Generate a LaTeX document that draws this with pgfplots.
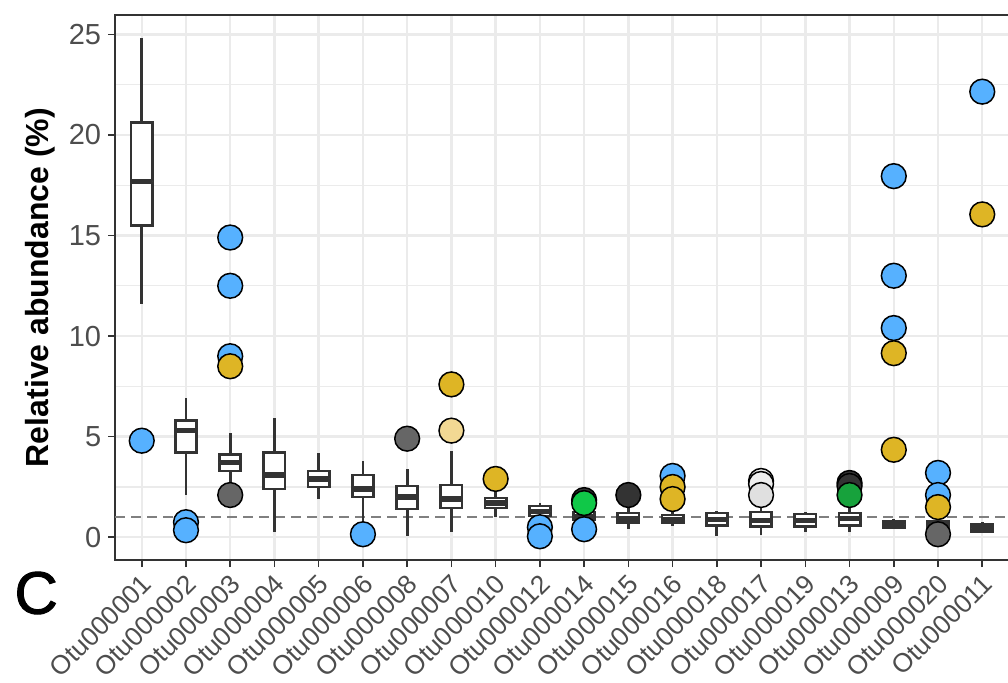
\documentclass[border=0pt]{standalone}
\usepackage{pgfplots}
\pgfplotsset{compat=1.18}
\usepgfplotslibrary{statistics}
\usepackage{fontspec}
\setmainfont{Liberation Sans}
\newfontfamily\cfont[FakeBold=1.6]{Liberation Sans}
\definecolor{cblue}{HTML}{56B1FF}
\definecolor{cgold}{HTML}{DEB525}
\definecolor{clgold}{HTML}{F2D893}
\definecolor{cgray}{HTML}{666666}
\definecolor{cdark}{HTML}{333333}
\definecolor{cgreen}{HTML}{10C848}
\definecolor{cdgreen}{HTML}{17A23C}
\definecolor{clgray}{HTML}{E0E0E0}
\definecolor{cvlgray}{HTML}{EEEEEE}
\definecolor{gridc}{HTML}{EBEBEB}
\definecolor{c333}{HTML}{333333}
\definecolor{c4d}{HTML}{4D4D4D}
\definecolor{cdash}{HTML}{808080}
\begin{document}
\begin{tikzpicture}
\pgfplotsset{boxc/.style={draw=c333, fill=white, line width=1.35pt, solid}}
\begin{axis}[
  at={(0,0)}, anchor=south west,
  scale only axis, width=446.8pt, height=272.5pt,
  xmin=-0.6, xmax=19.6, ymin=-1.13, ymax=25.96,
  xtick={0,...,19},
  xticklabels={Otu000001,Otu000002,Otu000003,Otu000004,Otu000005,Otu000006,Otu000008,Otu000007,Otu000010,Otu000012,Otu000014,Otu000015,Otu000016,Otu000018,Otu000017,Otu000019,Otu000013,Otu000009,Otu000020,Otu000011},
  ytick={0,5,10,15,20,25},
  minor ytick={2.5,7.5,12.5,17.5,22.5},
  xmajorgrids, ymajorgrids, yminorgrids,
  major grid style={gridc, line width=1.2pt},
  minor grid style={gridc, line width=0.7pt},
  axis line style={c333, line width=0.8pt},
  tick style={c333, line width=0.8pt},
  tick align=outside, tick pos=left,
  major tick length=3.5pt, minor tick length=0pt,
  /pgf/number format/assume math mode=true,
  yticklabel style={font=\fontsize{14.5}{16}\selectfont, text=c4d},
  xticklabel style={font=\fontsize{13.2}{15}\selectfont, text=c4d, rotate=45, anchor=north east, yshift=2pt, xshift=1pt},
  ylabel={\textbf{Relative abundance (\%)}},
  ylabel style={font=\fontsize{16}{18}\selectfont, at={(axis description cs:-0.084,0.5)}, anchor=center},
  boxplot/draw direction=y,
  boxplot/box extend=0.48,
  boxplot/whisker extend=0,
  boxplot/every median/.style={line width=2.6pt},
]
\addplot[cdash, line width=1pt, dash pattern=on 5pt off 3pt] coordinates {(-0.6,1) (19.6,1)};
% boxplots
\addplot[boxc, boxplot prepared={draw position=0, lower whisker=11.6, lower quartile=15.5, median=17.7, upper quartile=20.6, upper whisker=24.8}] coordinates {};
\addplot[boxc, boxplot prepared={draw position=1, lower whisker=2.1, lower quartile=4.2, median=5.3, upper quartile=5.8, upper whisker=6.9}] coordinates {};
\addplot[boxc, boxplot prepared={draw position=2, lower whisker=2.4, lower quartile=3.3, median=3.7, upper quartile=4.1, upper whisker=5.2}] coordinates {};
\addplot[boxc, boxplot prepared={draw position=3, lower whisker=0.25, lower quartile=2.4, median=3.1, upper quartile=4.2, upper whisker=5.95}] coordinates {};
\addplot[boxc, boxplot prepared={draw position=4, lower whisker=1.9, lower quartile=2.5, median=2.9, upper quartile=3.3, upper whisker=4.2}] coordinates {};
\addplot[boxc, boxplot prepared={draw position=5, lower whisker=0.6, lower quartile=2.0, median=2.4, upper quartile=3.1, upper whisker=3.8}] coordinates {};
\addplot[boxc, boxplot prepared={draw position=6, lower whisker=0.05, lower quartile=1.4, median=2.0, upper quartile=2.55, upper whisker=3.4}] coordinates {};
\addplot[boxc, boxplot prepared={draw position=7, lower whisker=0.25, lower quartile=1.45, median=1.9, upper quartile=2.6, upper whisker=4.3}] coordinates {};
\addplot[boxc, boxplot prepared={draw position=8, lower whisker=1.0, lower quartile=1.45, median=1.7, upper quartile=1.95, upper whisker=2.6}] coordinates {};
\addplot[boxc, boxplot prepared={draw position=9, lower whisker=0.8, lower quartile=1.05, median=1.3, upper quartile=1.55, upper whisker=1.7}] coordinates {};
\addplot[boxc, boxplot prepared={draw position=10, lower whisker=0.5, lower quartile=0.9, median=1.05, upper quartile=1.25, upper whisker=1.5}] coordinates {};
\addplot[boxc, boxplot prepared={draw position=11, lower whisker=0.4, lower quartile=0.75, median=0.95, upper quartile=1.2, upper whisker=1.7}] coordinates {};
\addplot[boxc, boxplot prepared={draw position=12, lower whisker=0.55, lower quartile=0.75, median=0.9, upper quartile=1.1, upper whisker=1.25}] coordinates {};
\addplot[boxc, boxplot prepared={draw position=13, lower whisker=0.05, lower quartile=0.6, median=0.9, upper quartile=1.2, upper whisker=1.3}] coordinates {};
\addplot[boxc, boxplot prepared={draw position=14, lower whisker=0.1, lower quartile=0.55, median=0.85, upper quartile=1.25, upper whisker=1.6}] coordinates {};
\addplot[boxc, boxplot prepared={draw position=15, lower whisker=0.25, lower quartile=0.55, median=0.85, upper quartile=1.15, upper whisker=1.25}] coordinates {};
\addplot[boxc, boxplot prepared={draw position=16, lower whisker=0.25, lower quartile=0.6, median=0.95, upper quartile=1.2, upper whisker=1.5}] coordinates {};
\addplot[boxc, boxplot prepared={draw position=17, lower whisker=0.4, lower quartile=0.5, median=0.65, upper quartile=0.8, upper whisker=0.9}] coordinates {};
\addplot[boxc, boxplot prepared={draw position=18, lower whisker=0.0, lower quartile=0.5, median=0.65, upper quartile=0.8, upper whisker=1.0}] coordinates {};
\addplot[boxc, boxplot prepared={draw position=19, lower whisker=0.2, lower quartile=0.3, median=0.45, upper quartile=0.65, upper whisker=0.75}] coordinates {};
% points
\addplot[only marks, mark=*, mark size=6.2pt, mark options={line width=0.75pt},
  scatter, point meta=explicit symbolic,
  scatter/classes={
    b={mark=*, draw=black, fill=cblue},
    g={mark=*, draw=black, fill=cgold},
    l={mark=*, draw=black, fill=clgold},
    m={mark=*, draw=black, fill=cgray},
    d={mark=*, draw=black, fill=cdark},
    e={mark=*, draw=black, fill=cgreen},
    f={mark=*, draw=black, fill=cdgreen},
    h={mark=*, draw=black, fill=clgray},
    w={mark=*, draw=black, fill=cvlgray}}]
coordinates {
 (0,4.8) [b]
 (1,0.75) [b] (1,0.35) [b]
 (2,14.9) [b] (2,12.5) [b] (2,9.0) [b] (2,8.5) [g] (2,2.1) [m]
 (5,0.15) [b]
 (6,4.9) [m]
 (7,7.6) [g] (7,5.3) [l]
 (8,2.9) [g]
 (9,0.5) [b] (9,0.05) [b]
 (10,1.85) [d] (10,1.7) [e] (10,0.4) [b]
 (11,2.1) [d]
 (12,3.05) [b] (12,2.5) [g] (12,1.9) [g]
 (14,2.8) [w] (14,2.65) [w] (14,2.1) [h]
 (16,2.7) [d] (16,2.55) [d] (16,2.1) [f]
 (17,17.95) [b] (17,13.0) [b] (17,10.4) [b] (17,9.15) [g] (17,4.35) [g]
 (18,3.2) [b] (18,2.1) [b] (18,1.5) [g] (18,0.15) [m]
 (19,22.15) [b] (19,16.05) [g]
};
\end{axis}
\node[font=\fontsize{30}{31}\selectfont\cfont] at (-39.5pt,-16.5pt) {C};
\pgfresetboundingbox
\useasboundingbox (-57.6pt,-61pt) rectangle (446.4pt,280pt);
\end{tikzpicture}
\end{document}
